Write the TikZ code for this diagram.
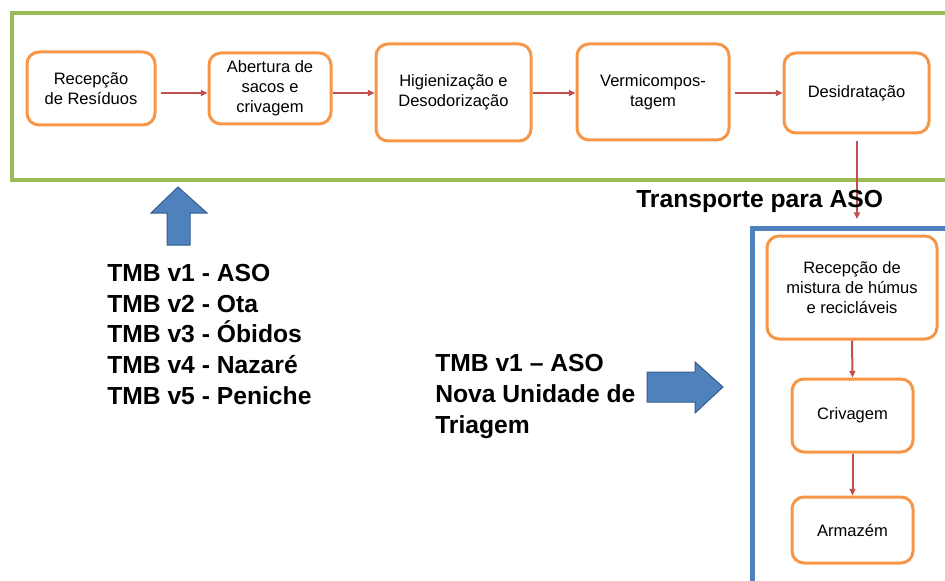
\documentclass[tikz,border=0pt]{standalone}
\usepackage{fontspec}
\setmainfont{Liberation Sans}
\usetikzlibrary{arrows.meta}
\definecolor{boxorange}{HTML}{F79646}
\definecolor{framegreen}{HTML}{9BBB59}
\definecolor{frameblue}{HTML}{4F81BD}
\definecolor{arrowblue}{HTML}{4F81BD}
\definecolor{arrowedge}{HTML}{385D8A}
\definecolor{flowred}{HTML}{C0504D}
\begin{document}
\begin{tikzpicture}[x=0.75pt, y=-0.75pt, >={Triangle[length=5pt,width=4.5pt]},
    stage/.style={draw=boxorange, line width=2.25pt, rounded corners=9pt, fill=white,
        align=center, inner sep=2pt, font=\fontsize{12.4}{15}\selectfont},
    flow/.style={->, draw=flowred, line width=1.5pt},
    label/.style={font=\fontsize{18.5}{23}\selectfont\bfseries, align=left}]
    \useasboundingbox (0,0) rectangle (945,581);
    % frames
    \draw[framegreen, line width=3pt] (12,13) rectangle (960,180);
    \draw[frameblue, line width=3.75pt] (752,228) rectangle (960,600);
    % first line of stages
    \node[stage, minimum width=96pt, minimum height=54.75pt] (rec) at (91,88.5) {Recepção\\de Resíduos};
    \node[stage, minimum width=91.5pt, minimum height=53.25pt] (abe) at (270,88.5) {Abertura de\\sacos e\\crivagem};
    \node[stage, minimum width=116.25pt, minimum height=72.75pt] (hig) at (453.5,92.5) {Higienização e\\Desodorização};
    \node[stage, minimum width=114pt, minimum height=72pt] (ver) at (653,92) {Vermicompos-\\tagem};
    \node[stage, minimum width=108.75pt, minimum height=60pt] (des) at (856.5,93) {Desidratação};
    % ASO
    \node[stage, minimum width=127.5pt, minimum height=77.25pt] (mis) at (852,287.5) {Recepção de\\mistura de húmus\\e recicláveis};
    \node[stage, minimum width=90.75pt, minimum height=54.75pt] (cri) at (852.5,415.5) {Crivagem};
    \node[stage, minimum width=90.75pt, minimum height=49.5pt] (arm) at (852.5,530) {Armazém};
    \coordinate (aso) at (857,219);
    \draw[flow] ([xshift=3pt]rec.east |- des.west) -- (abe.west |- des.west);
    \draw[flow] (abe.east |- des.west) -- (hig.west |- des.west);
    \draw[flow] (hig.east |- des.west) -- (ver.west |- des.west);
    \draw[flow] ([xshift=3pt]ver.east |- des.west) -- (des.west);
    \draw[flow] ([shift={(0.5,7)}]des.south) -- (aso);
    \draw[flow] (mis.south) -- (cri.north);
    \draw[flow] (cri.south) -- (arm.north);
    % block arrows
    \draw[arrowedge, fill=arrowblue, line width=0.75pt] (178,187) -- (207,213) -- (190,213) -- (190,245)
        -- (167,245) -- (167,213) -- (151,213) -- cycle;
    \draw[arrowedge, fill=arrowblue, line width=0.75pt] (723,387) -- (695,413) -- (695,402) -- (647,402)
        -- (647,372) -- (695,372) -- (695,362) -- cycle;
    % texts
    \node[label, anchor=base west, inner sep=0pt] (tr) at (636,207) {Transporte para ASO};
    \node[label, anchor=base west, inner sep=0pt] (lst) at (107,404) {TMB v1 - ASO\\TMB v2 - Ota\\TMB v3 - Óbidos\\TMB v4 - Nazaré\\TMB v5 - Peniche};
    \node[label, anchor=base west, inner sep=0pt] (nov) at (435,433) {TMB v1 – ASO\\Nova Unidade de\\Triagem};
\end{tikzpicture}
\end{document}
